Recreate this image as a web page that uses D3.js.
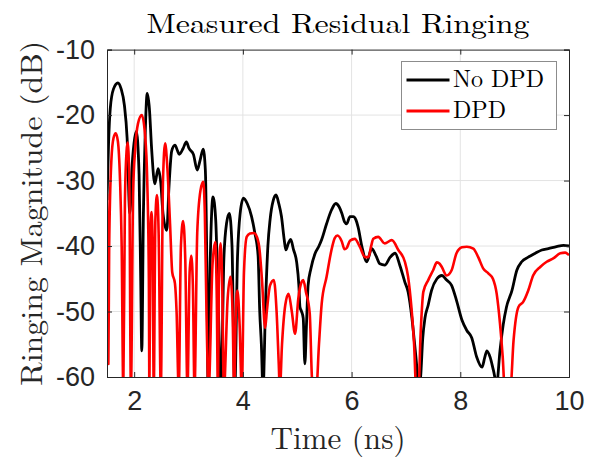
<!DOCTYPE html>
<html><head><meta charset="utf-8">
<script src="https://cdn.jsdelivr.net/npm/d3@7/dist/d3.min.js"></script>
<style>body{margin:0;background:#fff}</style>
</head><body>
<script>
const title = "Measured Residual Ringing";
const xLabel = "Time (ns)";
const yLabel = "Ringing Magnitude (dB)";
const seriesNames = ["No DPD", "DPD"];
const xTicks = [2, 4, 6, 8, 10];
const yTicks = [-10, -20, -30, -40, -50, -60];

const noDpdT = [1.50,1.53,1.56,1.62,1.70,1.76,1.82,1.87,1.92,1.96,2.01,2.04,2.09,2.12,2.14,2.17,2.20,2.24,2.28,2.32,2.38,2.44,2.49,2.53,2.60,2.64,2.69,2.75,2.80,2.83,2.90,2.96,3.01,3.09,3.16,3.21,3.27,3.31,3.34,3.36,3.40,3.45,3.50,3.55,3.60,3.65,3.70,3.75,3.80,3.85,3.90,3.95,4.01,4.08,4.16,4.22,4.28,4.31,4.34,4.37,4.42,4.46,4.50,4.56,4.61,4.66,4.71,4.76,4.79,4.84,4.88,4.93,4.99,5.03,5.05,5.08,5.11,5.14,5.17,5.20,5.25,5.33,5.40,5.45,5.54,5.63,5.71,5.77,5.82,5.87,5.91,5.97,6.03,6.08,6.12,6.19,6.28,6.37,6.45,6.52,6.61,6.71,6.80,6.89,6.98,7.04,7.11,7.16,7.20,7.23,7.27,7.31,7.35,7.41,7.47,7.57,7.66,7.75,7.84,7.93,8.03,8.12,8.21,8.30,8.40,8.45,8.49,8.55,8.61,8.67,8.73,8.79,8.85,8.95,9.04,9.13,9.25,9.38,9.50,9.62,9.77,9.90,10.0];
const noDpdDb = [-33,-24,-19,-16,-15.1,-16,-18.5,-23.5,-35,-28,-23.5,-22.5,-29,-45,-56,-35,-23.8,-16.7,-19,-25,-30.5,-28.2,-30.4,-35,-37.6,-31,-25.5,-24.6,-25.5,-26,-25.1,-24.1,-25.1,-26,-28.4,-27,-25.2,-28.5,-45,-62,-42,-32.5,-36,-50,-62,-42,-36.5,-35,-40,-62,-42,-35,-32.7,-33.5,-35.5,-38,-41.5,-50,-55,-62,-48,-40,-36,-33,-32.2,-33.5,-35.5,-39,-40.6,-39.5,-39,-40.5,-42.5,-46,-49.3,-50,-51,-58,-52,-46,-43.5,-41.1,-40,-39,-36.6,-34.5,-33.5,-34,-35,-36.3,-36.6,-35.5,-35.5,-36,-37.1,-40.1,-42.4,-40.4,-41.5,-42.7,-42.9,-41.7,-41.1,-43,-45.5,-47,-51,-55,-58.5,-62,-60,-54,-51,-49,-46.8,-45,-44.5,-45.2,-46,-48.3,-51.3,-52.9,-54,-56.9,-58.5,-57,-56,-57,-59,-61,-56,-52,-49.3,-46.8,-43.7,-42.4,-41.7,-41.1,-40.6,-40.4,-40.1,-39.9,-40];

const dpdT = [1.50,1.515,1.525,1.54,1.58,1.62,1.66,1.70,1.74,1.77,1.80,1.83,1.86,1.88,1.91,1.94,1.98,2.02,2.07,2.14,2.20,2.24,2.27,2.28,2.30,2.32,2.34,2.36,2.39,2.42,2.45,2.49,2.53,2.57,2.61,2.66,2.70,2.75,2.78,2.82,2.86,2.90,2.94,2.98,3.02,3.05,3.08,3.11,3.16,3.22,3.27,3.30,3.33,3.37,3.44,3.49,3.52,3.54,3.56,3.59,3.62,3.65,3.72,3.77,3.81,3.84,3.87,3.90,3.94,3.98,4.02,4.07,4.13,4.20,4.24,4.30,4.35,4.41,4.44,4.50,4.57,4.62,4.66,4.68,4.72,4.78,4.84,4.90,4.96,5.02,5.08,5.11,5.16,5.23,5.27,5.30,5.35,5.40,5.45,5.54,5.63,5.69,5.74,5.82,5.87,5.91,5.97,6.06,6.15,6.25,6.31,6.36,6.40,6.49,6.61,6.74,6.86,6.98,7.04,7.10,7.15,7.19,7.23,7.27,7.32,7.41,7.50,7.57,7.62,7.66,7.75,7.84,7.93,8.03,8.12,8.24,8.33,8.42,8.52,8.60,8.67,8.73,8.78,8.82,8.92,8.98,9.07,9.16,9.25,9.34,9.47,9.59,9.71,9.84,9.93,10.0];
const dpdDb = [-32,-50,-58,-40,-27,-23.5,-22.8,-24,-30,-40,-62,-33,-25.5,-24.2,-30,-62,-32,-25,-21.3,-20.0,-23,-30,-45,-62,-38,-34.8,-40,-62,-36,-32.2,-38,-62,-30,-24.3,-28,-36.6,-44,-45.7,-50,-62,-40,-36.2,-42,-62,-44,-41.5,-46,-62,-38,-31.5,-30.2,-35,-50,-62,-43,-39.4,-48,-62,-45,-39.6,-46,-62,-48,-44.7,-50,-62,-50,-46.8,-52,-62,-44,-38.6,-38.1,-38.0,-38.3,-40.1,-45,-52.5,-50,-46,-45.2,-50,-58,-62,-55,-49,-47.3,-50,-53.4,-48,-45.5,-45.2,-47,-50.3,-60,-62,-62,-55,-48.8,-44.7,-40.6,-38.8,-38.4,-39.3,-40.5,-40.3,-39.2,-38.9,-40.1,-41.7,-41.7,-40,-38.9,-38.6,-39.6,-39.1,-40.6,-42.4,-44.7,-49.3,-55,-62,-62,-53.4,-47,-45.2,-43.7,-42.5,-42.7,-43.2,-44.5,-43.7,-41.1,-40.2,-40.1,-40.4,-41.7,-43.4,-44.2,-45.0,-47.3,-51.8,-56.9,-62,-62,-54.4,-49.3,-48.5,-46.8,-44.5,-43.2,-42.4,-41.9,-41.1,-41.0,-41.4];

const W = 597, H = 458;
const m = {l: 107, r: 569, t: 49.6, b: 377};
const svg = d3.select("body").append("svg").attr("width", W).attr("height", H);
const x = d3.scaleLinear().domain([1.5, 10]).range([m.l, m.r]);
const y = d3.scaleLinear().domain([-60, -10]).range([m.b, m.t]);

svg.append("defs").append("clipPath").attr("id", "clip")
  .append("rect").attr("x", m.l).attr("y", m.t).attr("width", m.r - m.l).attr("height", m.b - m.t);

// grid
const g = svg.append("g");
g.selectAll(".gx").data(xTicks.filter(d => d < 10)).enter().append("line")
  .attr("x1", d => x(d)).attr("x2", d => x(d)).attr("y1", m.t).attr("y2", m.b)
  .attr("stroke", "#e3e3e3").attr("stroke-width", 1);
g.selectAll(".gy").data(yTicks.filter(d => d > -60 && d < -10)).enter().append("line")
  .attr("y1", d => y(d)).attr("y2", d => y(d)).attr("x1", m.l).attr("x2", m.r)
  .attr("stroke", "#e3e3e3").attr("stroke-width", 1);

const line = d3.line().x(d => x(d[0])).y(d => y(d[1])).curve(d3.curveMonotoneX);
const plot = svg.append("g").attr("clip-path", "url(#clip)");
plot.append("path").datum(noDpdT.map((t, i) => [t, noDpdDb[i]]))
  .attr("d", line).attr("fill", "none").attr("stroke", "#000").attr("stroke-width", 2.8).attr("stroke-linejoin", "round");
plot.append("path").datum(dpdT.map((t, i) => [t, dpdDb[i]]))
  .attr("d", line).attr("fill", "none").attr("stroke", "#ff0000").attr("stroke-width", 2.6).attr("stroke-linejoin", "round");

// axes
const axColor = "#262626";
const tickFont = "'Liberation Sans', Arial, sans-serif";
const xAxis = svg.append("g").attr("transform", `translate(0,${m.b})`)
  .call(d3.axisBottom(x).tickValues(xTicks).tickSize(-5).tickPadding(14).tickFormat(d3.format("d")));
const xAxisTop = svg.append("g").attr("transform", `translate(0,${m.t})`)
  .call(d3.axisTop(x).tickValues(xTicks).tickSize(-5).tickFormat(""));
const yAxis = svg.append("g").attr("transform", `translate(${m.l},0)`)
  .call(d3.axisLeft(y).tickValues(yTicks).tickSize(-5).tickPadding(12).tickFormat(d => String(d).replace("\u2212", "-")));
const yAxisR = svg.append("g").attr("transform", `translate(${m.r},0)`)
  .call(d3.axisRight(y).tickValues(yTicks).tickSize(-5).tickFormat(""));
[xAxis, xAxisTop, yAxis, yAxisR].forEach(a => {
  a.selectAll("path").attr("stroke", axColor).attr("stroke-width", 1);
  a.selectAll("line").attr("stroke", axColor).attr("stroke-width", 1);
  a.selectAll("text").attr("fill", axColor).style("font-family", tickFont).style("font-size", "27px");
});
xAxis.selectAll("text").attr("dy", "0.71em");

// titles
const serif = "'Latin Modern Roman','CMU Serif','Liberation Serif','DejaVu Serif',serif";
svg.append("text").attr("x", (m.l + m.r) / 2).attr("y", 33).attr("text-anchor", "middle")
  .style("font-family", serif).style("font-size", "28px").attr("fill", "#000")
  .attr("textLength", 383).attr("lengthAdjust", "spacingAndGlyphs").text(title);
svg.append("text").attr("x", (m.l + m.r) / 2).attr("y", 449).attr("text-anchor", "middle")
  .style("font-family", serif).style("font-size", "31px").attr("fill", "#262626")
  .attr("textLength", 135).attr("lengthAdjust", "spacingAndGlyphs").text(xLabel);
svg.append("text").attr("transform", `translate(42,${(m.t + m.b) / 2 }) rotate(-90)`).attr("text-anchor", "middle")
  .style("font-family", serif).style("font-size", "30px").attr("fill", "#262626")
  .attr("textLength", 345).attr("lengthAdjust", "spacingAndGlyphs").text(yLabel);

// legend
const lg = svg.append("g");
lg.append("rect").attr("x", 401.5).attr("y", 61.5).attr("width", 155).attr("height", 68)
  .attr("fill", "#fff").attr("stroke", "#8c8c8c").attr("stroke-width", 1);
const legColors = ["#000", "#ff0000"];
const legY = [80, 111];
seriesNames.forEach((s, i) => {
  lg.append("line").attr("x1", 406.5).attr("x2", 449.5).attr("y1", legY[i]).attr("y2", legY[i])
    .attr("stroke", legColors[i]).attr("stroke-width", 2.8);
  lg.append("text").attr("x", 453).attr("y", legY[i] + 7).style("font-family", serif)
    .style("font-size", "24px").attr("fill", "#000").text(s);
});
</script>
</body></html>
